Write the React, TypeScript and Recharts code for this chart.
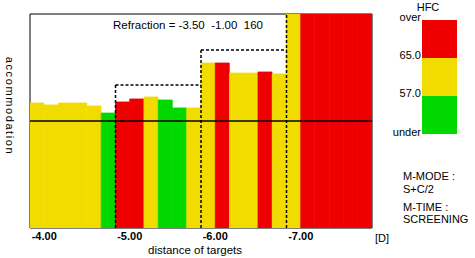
import React from "react";
import {
  BarChart,
  Bar,
  Cell,
  XAxis,
  YAxis,
  ReferenceLine,
  ReferenceArea,
} from "recharts";

// 24 measurement columns, positioned at column centres on a 0..24 axis
const columnPos = [
  0.5, 1.5, 2.5, 3.5, 4.5, 5.5, 6.5, 7.5, 8.5, 9.5, 10.5, 11.5,
  12.5, 13.5, 14.5, 15.5, 16.5, 17.5, 18.5, 19.5, 20.5, 21.5, 22.5, 23.5,
];
// accommodation response, 0..10 scale; 5 = baseline
const accommodation = [
  5.84, 5.75, 5.84, 5.84, 5.7, 5.37, 5.89, 6.03, 6.12, 5.98, 5.61, 5.61,
  7.71, 7.71, 7.24, 7.24, 7.29, 7.2, 10, 10, 10, 10, 10, 10,
];
const hfcLevel = [
  "mid", "mid", "mid", "mid", "mid", "under", "over", "over", "mid", "under", "under", "mid",
  "mid", "over", "mid", "mid", "over", "mid", "mid", "over", "over", "over", "over", "over",
];
const tickPositions = [1, 7, 13, 19];
const tickLabels = ["-4.00", "-5.00", "-6.00", "-7.00"];
// target-change boundaries (column index) and their dashed box heights
const boundaryPos = [6, 12, 18];
const boundaryTop = [6.68, 8.32, 10];
const baseline = 5;
const legendLabels = ["over", "65.0", "57.0", "under"];

const COLORS: Record<string, string> = {
  over: "#ee0000",
  mid: "#f2dc00",
  under: "#00d800",
};

const data = columnPos.map((p, i) => ({ pos: p, value: accommodation[i], level: hfcLevel[i] }));

const FONT = "'Liberation Sans', Arial, sans-serif";

const XTick = (props: any) => {
  const { x, y, payload } = props;
  const idx = tickPositions.indexOf(payload.value);
  return (
    <text
      x={x}
      y={y + 8}
      textAnchor="middle"
      dominantBaseline="central"
      fontFamily={FONT}
      fontSize={11}
      fontWeight="bold"
      fill="#000"
    >
      {idx >= 0 ? tickLabels[idx] : ""}
    </text>
  );
};

export default function App() {
  return (
    <div style={{ position: "absolute", left: 0, top: 0, width: 475, height: 258, background: "#fff" }}>
      <BarChart
        width={475}
        height={258}
        data={data}
        margin={{ top: 14, right: 103, bottom: 0, left: 0 }}
        barCategoryGap={0}
        barGap={0}
      >
        <XAxis
          xAxisId="x"
          dataKey="pos"
          type="number"
          domain={[0, 24]}
          ticks={tickPositions}
          height={30}
          axisLine={false}
          tickLine={false}
          tickSize={0}
          tickMargin={0}
          tick={<XTick />}
          interval={0}
          allowDataOverflow
        />
        <YAxis
          yAxisId="y"
          type="number"
          domain={[0, 10]}
          width={30}
          tick={false}
          axisLine={false}
          tickLine={false}
          allowDataOverflow
        />
        <Bar dataKey="value" xAxisId="x" yAxisId="y" isAnimationActive={false}>
          {data.map((d, i) => (
            <Cell key={i} fill={COLORS[d.level]} stroke={COLORS[d.level]} strokeWidth={0.8} />
          ))}
        </Bar>
        <ReferenceLine xAxisId="x" yAxisId="y" y={baseline} stroke="#000" strokeWidth={1.5} />
        {boundaryPos.map((p, i) => (
          <ReferenceLine
            key={`v${i}`}
            xAxisId="x"
            yAxisId="y"
            segment={[
              { x: p, y: 0 },
              { x: p, y: boundaryTop[i] },
            ]}
            stroke="#000"
            strokeWidth={1.5}
            strokeDasharray="3 2"
          />
        ))}
        {boundaryPos.slice(0, 2).map((p, i) => (
          <ReferenceLine
            key={`h${i}`}
            xAxisId="x"
            yAxisId="y"
            segment={[
              { x: p, y: boundaryTop[i] },
              { x: boundaryPos[i + 1], y: boundaryTop[i] },
            ]}
            stroke="#000"
            strokeWidth={1.5}
            strokeDasharray="3 2"
          />
        ))}
        <ReferenceArea
          xAxisId="x"
          yAxisId="y"
          x1={0}
          x2={24}
          y1={0}
          y2={10}
          fill="none"
          fillOpacity={0}
          stroke="#000"
          strokeWidth={1}
        />
      </BarChart>
      <svg
        width={475}
        height={258}
        style={{ position: "absolute", left: 0, top: 0, pointerEvents: "none" }}
      >
        <text
          x={10}
          y={106}
          transform="rotate(90 10 106)"
          textAnchor="middle"
          dominantBaseline="central"
          fontFamily={FONT}
          fontSize={11}
          letterSpacing={1.6}
          fill="#000"
        >
          accommodation
        </text>
        <text
          x={188}
          y={25}
          textAnchor="middle"
          dominantBaseline="central"
          fontFamily={FONT}
          fontSize={11.5}
          fill="#000"
          style={{ whiteSpace: "pre" }}
        >
          {"Refraction = -3.50  -1.00  160"}
        </text>
        <text x={195} y={249.5} textAnchor="middle" dominantBaseline="central" fontFamily={FONT} fontSize={11.5} fill="#000">
          distance of targets
        </text>
        <text x={382} y={238} textAnchor="middle" dominantBaseline="central" fontFamily={FONT} fontSize={11} fill="#000">
          [D]
        </text>
        <text x={428} y={7} textAnchor="middle" dominantBaseline="central" fontFamily={FONT} fontSize={11} fill="#000">
          HFC
        </text>
        <rect x={422} y={20} width={35} height={38} fill={COLORS.over} />
        <rect x={422} y={58} width={35} height={38} fill={COLORS.mid} />
        <rect x={422} y={96} width={35} height={38} fill={COLORS.under} />
        {legendLabels.map((l, i) => (
          <text
            key={l}
            x={421}
            y={[17, 55, 93, 132][i]}
            textAnchor="end"
            dominantBaseline="central"
            fontFamily={FONT}
            fontSize={11}
            fill="#000"
          >
            {l}
          </text>
        ))}
        <text x={403} y={176} dominantBaseline="central" fontFamily={FONT} fontSize={11} fill="#000">M-MODE :</text>
        <text x={403} y={189} dominantBaseline="central" fontFamily={FONT} fontSize={11} fill="#000">S+C/2</text>
        <text x={403} y={207} dominantBaseline="central" fontFamily={FONT} fontSize={11} fill="#000">M-TIME :</text>
        <text x={403} y={219} dominantBaseline="central" fontFamily={FONT} fontSize={11} fill="#000">SCREENING</text>
      </svg>
    </div>
  );
}
